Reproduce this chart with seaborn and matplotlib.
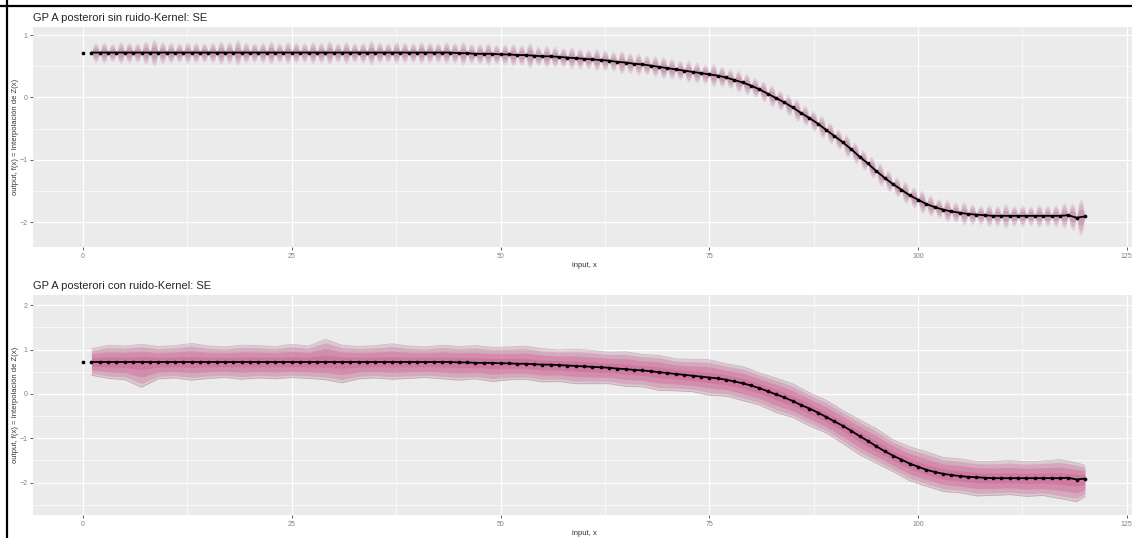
import numpy as np
import pandas as pd
import seaborn as sns
import matplotlib.pyplot as plt
from matplotlib.lines import Line2D
from matplotlib.ticker import MultipleLocator

# %% data
# observed points at x = 0..120 (same mean curve in both panels)
x_obs = np.arange(0, 121)
mean_y = [
    0.72, 0.72, 0.72, 0.72, 0.72, 0.72, 0.72, 0.72, 0.72, 0.72,
    0.72, 0.72, 0.72, 0.72, 0.72, 0.72, 0.72, 0.72, 0.72, 0.72,
    0.72, 0.72, 0.72, 0.72, 0.72, 0.72, 0.72, 0.72, 0.72, 0.72,
    0.72, 0.72, 0.72, 0.72, 0.72, 0.72, 0.72, 0.72, 0.72, 0.72,
    0.72, 0.72, 0.72, 0.72, 0.72, 0.71, 0.71, 0.70, 0.70, 0.70,
    0.69, 0.69, 0.68, 0.68, 0.67, 0.66, 0.66, 0.65, 0.64, 0.63,
    0.62, 0.61, 0.60, 0.59, 0.57, 0.56, 0.54, 0.53, 0.51, 0.49,
    0.47, 0.45, 0.43, 0.41, 0.39, 0.37, 0.35, 0.32, 0.28, 0.24,
    0.19, 0.13, 0.06, -0.01, -0.08, -0.16, -0.25, -0.33, -0.42, -0.52,
    -0.62, -0.72, -0.83, -0.95, -1.06, -1.18, -1.29, -1.39, -1.48, -1.57,
    -1.64, -1.71, -1.76, -1.80, -1.83, -1.85, -1.87, -1.88, -1.89, -1.90,
    -1.90, -1.90, -1.90, -1.90, -1.90, -1.90, -1.90, -1.90, -1.89, -1.93,
    -1.91,
]

# top panel: half height of the sample "beads" between x=k and k+1, k=1..119
top_amp = [
    0.16, 0.17, 0.15, 0.18, 0.17, 0.16, 0.19, 0.22, 0.18, 0.17,
    0.16, 0.18, 0.17, 0.16, 0.17, 0.19, 0.18, 0.21, 0.17, 0.16,
    0.17, 0.19, 0.16, 0.18, 0.17, 0.16, 0.18, 0.17, 0.19, 0.16,
    0.18, 0.16, 0.17, 0.20, 0.17, 0.16, 0.18, 0.17, 0.16, 0.18,
    0.17, 0.16, 0.18, 0.17, 0.19, 0.16, 0.17, 0.18, 0.16, 0.17,
    0.18, 0.17, 0.21, 0.16, 0.18, 0.17, 0.16, 0.18, 0.17, 0.16,
    0.18, 0.17, 0.16, 0.19, 0.17, 0.18, 0.16, 0.17, 0.18, 0.17,
    0.16, 0.18, 0.17, 0.16, 0.19, 0.17, 0.16, 0.18, 0.17, 0.16,
    0.17, 0.18, 0.16, 0.17, 0.18, 0.16, 0.17, 0.18, 0.17, 0.16,
    0.18, 0.17, 0.16, 0.17, 0.18, 0.17, 0.16, 0.18, 0.17, 0.19,
    0.17, 0.16, 0.18, 0.17, 0.19, 0.17, 0.16, 0.18, 0.17, 0.20,
    0.17, 0.18, 0.16, 0.19, 0.17, 0.18, 0.21, 0.22, 0.30,
]

# bottom panel: spread of the noisy samples above / below the mean
bot_x = [1, 3, 5, 7, 9, 11, 13, 15, 17, 19, 21, 23, 25, 27, 29, 31, 33, 35, 37, 39,
         41, 43, 45, 47, 49, 51, 53, 55, 57, 59, 61, 63, 65, 67, 69, 71, 73, 75, 77, 79,
         81, 83, 85, 87, 89, 91, 93, 95, 97, 99, 101, 103, 105, 107, 109, 111, 113, 115,
         117, 119, 120]
bot_up = [
    0.30, 0.38, 0.36, 0.40, 0.35, 0.37, 0.42, 0.36, 0.34, 0.38,
    0.37, 0.35, 0.40, 0.36, 0.51, 0.38, 0.35, 0.37, 0.41, 0.36,
    0.34, 0.38, 0.36, 0.39, 0.35, 0.37, 0.40, 0.36, 0.34, 0.38,
    0.37, 0.35, 0.39, 0.36, 0.38, 0.34, 0.37, 0.40, 0.36, 0.38,
    0.35, 0.37, 0.39, 0.36, 0.38, 0.35, 0.37, 0.40, 0.36, 0.38,
    0.41, 0.37, 0.39, 0.36, 0.38, 0.40, 0.37, 0.39, 0.42, 0.38,
    0.30,
]
bot_lo = [
    0.30, 0.37, 0.40, 0.57, 0.38, 0.36, 0.41, 0.37, 0.35, 0.39,
    0.36, 0.38, 0.35, 0.37, 0.40, 0.47, 0.38, 0.36, 0.39, 0.37,
    0.35, 0.38, 0.40, 0.36, 0.42, 0.37, 0.35, 0.39, 0.37, 0.40,
    0.38, 0.36, 0.39, 0.37, 0.41, 0.38, 0.36, 0.40, 0.37, 0.39,
    0.38, 0.41, 0.37, 0.39, 0.36, 0.40, 0.42, 0.38, 0.36, 0.39,
    0.37, 0.40, 0.38, 0.42, 0.39, 0.37, 0.41, 0.39, 0.46, 0.50,
    0.40,
]

titles = ['GP A posterori sin ruido-Kernel: SE', 'GP A posterori con ruido-Kernel: SE']
ylims = [(-2.4, 1.13), (-2.73, 2.23)]

df = pd.DataFrame({'x': x_obs, 'y': mean_y})

# %% style
sns.set_theme(style='darkgrid')
plt.rcParams['font.family'] = ['Liberation Sans', 'DejaVu Sans']

W, H = 1132, 538
fig = plt.figure(figsize=(W / 100, H / 100), dpi=100)
ax1 = fig.add_axes([33 / W, 1 - 247 / H, 1102 / W, 220 / H])
ax2 = fig.add_axes([33 / W, 1 - 515 / H, 1102 / W, 220 / H])


def gg_style(ax, title, ylim):
    ax.set_facecolor('#EBEBEB')
    ax.set_xlim(-6, 126)
    ax.set_ylim(*ylim)
    ax.xaxis.set_major_locator(MultipleLocator(25))
    ax.xaxis.set_minor_locator(MultipleLocator(12.5))
    ax.yaxis.set_major_locator(MultipleLocator(1))
    ax.yaxis.set_minor_locator(MultipleLocator(0.5))
    ax.grid(which='major', color='white', lw=0.9)
    ax.grid(which='minor', color='white', lw=0.45)
    ax.set_axisbelow(True)
    ax.tick_params(which='major', bottom=True, left=True, length=2.5, width=0.6,
                   color='#444444', labelsize=5, labelcolor='#808080', pad=1.5)
    ax.tick_params(which='minor', length=0)
    for s in ax.spines.values():
        s.set_visible(False)
    ax.set_title(title, loc='left', fontsize=8, pad=4)
    ax.set_xlabel('input, x', fontsize=5.5, labelpad=2, color='#333333')
    ax.set_ylabel('output, f(x) = Interpolación de Z(x)', fontsize=5.5,
                  labelpad=0, color='#333333')


# %% top panel: noise-free posterior samples (beads pinched at each point)
my = np.array(mean_y)
prof = [0.0, 0.8, 1.0, 0.8]
fx, fc, fa = [], [], []
for k in range(1, 120):
    for j, p in enumerate(prof):
        t = j / 4
        fx.append(k + t)
        fc.append(my[k] * (1 - t) + my[k + 1] * t)
        fa.append(top_amp[k - 1] * p)
fx.append(120)
fc.append(my[120])
fa.append(0.0)
fx, fc, fa = np.array(fx), np.array(fc), np.array(fa)

for frac, alpha in [(1.0, 0.16), (0.75, 0.2), (0.45, 0.25)]:
    ax1.fill_between(fx, fc - fa * frac, fc + fa * frac, color='#a8527a',
                     alpha=alpha, lw=0)

# %% bottom panel: noisy posterior samples
bx = np.array(bot_x)
bm = my[bx]
up, lo = np.array(bot_up), np.array(bot_lo)
ax2.fill_between(bx, bm - lo, bm + up, color='#bfa3b1', alpha=0.45, lw=0)
ax2.plot(bx, bm + up, color='#b07a94', lw=0.5, alpha=0.5)
ax2.plot(bx, bm - lo, color='#b07a94', lw=0.5, alpha=0.5)
for frac, alpha in [(0.85, 0.25), (0.6, 0.28), (0.3, 0.28)]:
    ax2.fill_between(bx, bm - lo * frac, bm + up * frac, color='#cc4782',
                     alpha=alpha, lw=0)

# %% mean curve and observed points
for ax, title, yl in zip([ax1, ax2], titles, ylims):
    sns.lineplot(data=df[df['x'] >= 1], x='x', y='y', ax=ax, color='black', lw=1.3)
    sns.scatterplot(data=df, x='x', y='y', ax=ax, color='black', s=7, linewidth=0,
                    zorder=5)
    gg_style(ax, title, yl)

# screenshot frame
fig.add_artist(Line2D([0, 1], [1 - 5.5 / H] * 2, color='black', lw=1.6,
                      transform=fig.transFigure))
fig.add_artist(Line2D([6.5 / W] * 2, [0, 1], color='black', lw=1.6,
                      transform=fig.transFigure))

fig.savefig('out.png', dpi=100)
